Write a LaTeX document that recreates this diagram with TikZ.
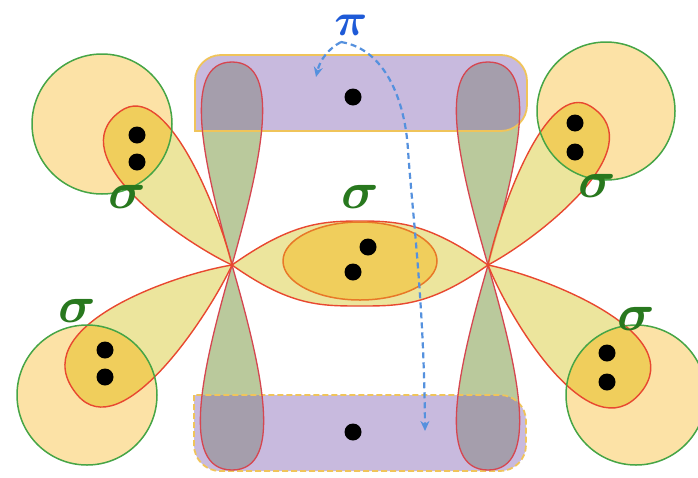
\RequirePackage{fix-cm}
\documentclass[tikz,border=0pt]{standalone}
\usepackage{amsmath}
\usetikzlibrary{arrows.meta}

\definecolor{pgreen}{RGB}{186,201,156}
\definecolor{pifill}{RGB}{145,117,189}
\definecolor{rectline}{RGB}{240,196,90}
\definecolor{plobeline}{RGB}{214,70,80}
\definecolor{hfill}{RGB}{252,226,166}
\definecolor{lobefill}{RGB}{229,219,119}
\definecolor{overlap}{RGB}{240,206,92}
\definecolor{lobeline}{RGB}{232,72,48}
\definecolor{hline}{RGB}{70,165,70}
\definecolor{bondline}{RGB}{232,120,40}
\definecolor{sigmagreen}{RGB}{40,120,30}
\definecolor{piblue}{RGB}{30,90,215}
\definecolor{arrowblue}{RGB}{85,145,222}

% p orbital lobe: options, origin x, origin y, direction, length, half-width
\newcommand\plobe[6]{%
  \path[#1,shift={(#2,#3)},rotate=#4]
    (0,0) .. controls ({0.5*#5},{0.95*#6}) and (#5,{1.72*#6}) .. (#5,0)
          .. controls (#5,{-1.72*#6}) and ({0.5*#5},{-0.95*#6}) .. (0,0) -- cycle;}

% sp2 hybrid lobe (teardrop, each side with its own width):
% options, origin x, origin y, direction, length, width on one side, width on the other
\newcommand\hlobe[7]{%
  \path[#1,shift={(#2,#3)},rotate=#4]
    (0,0) .. controls ({0.26*#5},{0.68*#6}) and (#5,{1.9*#6}) .. (#5,0)
          .. controls (#5,{-1.9*#7}) and ({0.26*#5},{-0.68*#7}) .. (0,0) -- cycle;}

% the four C--H lobes
\newcommand\lobeUL[1]{\hlobe{#1}{232}{265}{126}{190}{30}{40}}
\newcommand\lobeLL[1]{\hlobe{#1}{232}{265}{220}{202}{46}{36}}
\newcommand\lobeUR[1]{\hlobe{#1}{488}{265}{57}{189}{40}{28}}
\newcommand\lobeLR[1]{\hlobe{#1}{488}{265}{-40}{199}{41}{41}}

\begin{document}
\begin{tikzpicture}[x=1pt,y=-1pt,
  pfill/.style={fill=pgreen},
  poutline/.style={draw=plobeline,line width=1.3pt},
  pibox/.style={fill=pifill,fill opacity=0.5,draw=rectline,line width=1.8pt},
  hsphere/.style={fill=hfill},
  hsphereline/.style={draw=hline,line width=1.5pt},
  sfill/.style={fill=lobefill,fill opacity=0.72},
  soutline/.style={draw=lobeline,line width=1.4pt},
  electron/.style={fill=black},
  sigmalabel/.style={text=sigmagreen,inner sep=0pt,font=\fontsize{52}{52}\selectfont\boldmath},
  pilabel/.style={text=piblue,inner sep=0pt,font=\fontsize{46}{46}\selectfont\boldmath},
  piarrow/.style={draw=arrowblue,line width=2.2pt,dash pattern=on 6pt off 4pt,
    -{Stealth[length=10pt,width=9pt]}}]
\useasboundingbox (0,0) rectangle (698,477);

% carbon p orbitals
\plobe{pfill}{232}{265}{90}{203}{30}
\plobe{pfill}{232}{265}{270}{205}{31}
\plobe{pfill}{488}{265}{90}{203}{31}
\plobe{pfill}{488}{265}{270}{205}{31}

% pi bond regions
\path[pibox] (195,131) [rounded corners=26] -- (195,55) -- (527,55) -- (527,131) [sharp corners] -- cycle;
\path[pibox,dash pattern=on 6pt off 3pt] (194,395) [rounded corners=26] -- (194,471) -- (526,471) -- (526,395) [sharp corners] -- cycle;

\plobe{poutline}{232}{265}{90}{203}{30}
\plobe{poutline}{232}{265}{270}{205}{31}
\plobe{poutline}{488}{265}{90}{203}{31}
\plobe{poutline}{488}{265}{270}{205}{31}

% hydrogen 1s spheres
\fill[hsphere] (102,124) circle[radius=70];
\fill[hsphere] (606,111) circle[radius=69];
\fill[hsphere] (87,395) circle[radius=70];
\fill[hsphere] (636,395) circle[radius=70];

% sp2 hybrid lobes
\lobeUL{sfill}
\lobeLL{sfill}
\lobeUR{sfill}
\lobeLR{sfill}

% C--C sigma overlap
\path[sfill] (232,265) .. controls (290,224) and (320,221) .. (360,221)
  .. controls (400,221) and (430,224) .. (488,265)
  .. controls (430,306) and (400,306) .. (360,306)
  .. controls (320,306) and (290,306) .. (232,265) -- cycle;

% C--H overlap regions
\begin{scope}
  \clip (102,124) circle[radius=70];
  \lobeUL{fill=overlap}
\end{scope}
\begin{scope}
  \clip (606,111) circle[radius=69];
  \lobeUR{fill=overlap}
\end{scope}
\begin{scope}
  \clip (87,395) circle[radius=70];
  \lobeLL{fill=overlap}
\end{scope}
\begin{scope}
  \clip (636,395) circle[radius=70];
  \lobeLR{fill=overlap}
\end{scope}

\lobeUL{soutline}
\lobeLL{soutline}
\lobeUR{soutline}
\lobeLR{soutline}
\path[soutline] (232,265) .. controls (290,224) and (320,221) .. (360,221)
  .. controls (400,221) and (430,224) .. (488,265)
  .. controls (430,306) and (400,306) .. (360,306)
  .. controls (320,306) and (290,306) .. (232,265) -- cycle;

\filldraw[fill=overlap,draw=bondline,line width=1.5pt] (360,261) ellipse[x radius=77,y radius=39];

\draw[hsphereline] (102,124) circle[radius=70];
\draw[hsphereline] (606,111) circle[radius=69];
\draw[hsphereline] (87,395) circle[radius=70];
\draw[hsphereline] (636,395) circle[radius=70];

% electrons
\foreach \ex/\ey in {353/97, 353/432, 137/135, 137/162, 575/123, 575/152,
                     105/350, 105/377, 607/353, 607/382, 368/247, 353/272}
  \fill[electron] (\ex,\ey) circle[radius=8.5];

% labels
\node[sigmalabel] (sUL) at (127,197) {$\sigma$};
\node[sigmalabel] (sUR) at (597,186) {$\sigma$};
\node[sigmalabel] (sLL) at (77,311) {$\sigma$};
\node[sigmalabel] (sLR) at (636,319) {$\sigma$};
\node[sigmalabel] (sCC) at (360,197) {$\sigma$};
\node[pilabel] (pi) at (351,25) {$\pi$};

% pi bond arrows
\coordinate (piroot) at (341,42);
\coordinate (pitop) at (316,77);
\coordinate (pibottom) at (425,431);
\draw[piarrow] (piroot) .. controls (328,49) and (320,60) .. (pitop);
\draw[piarrow] (piroot) .. controls (385,49) and (405,100) .. (408,150)
  .. controls (412,210) and (424,300) .. (pibottom);
\end{tikzpicture}
\end{document}
